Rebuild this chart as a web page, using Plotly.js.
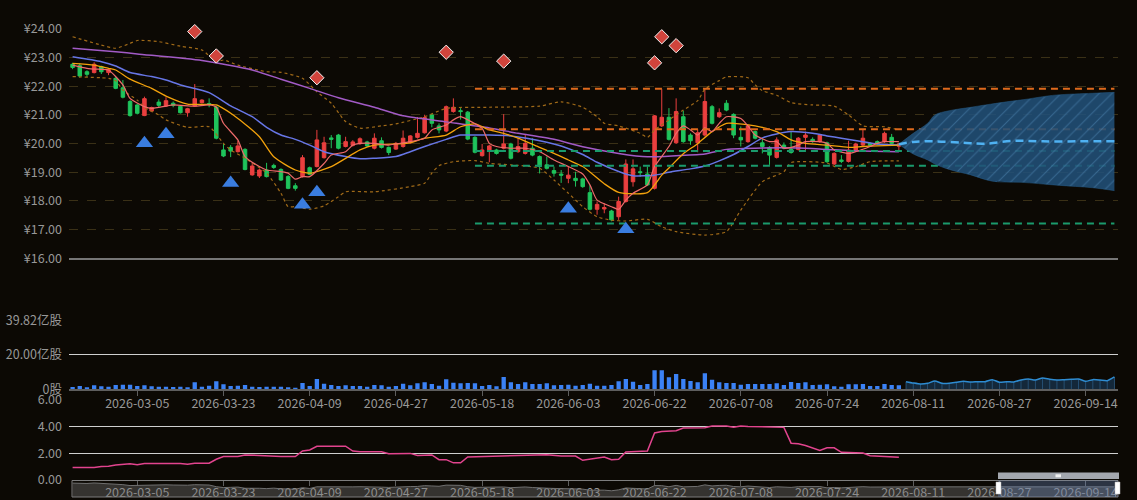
<!DOCTYPE html>
<html><head><meta charset="utf-8">
<script src="https://cdn.plot.ly/plotly-3.0.1.min.js"></script>
<style>html,body{margin:0;padding:0;background:#0c0904;}#chart{width:1137px;height:500px;}</style>
</head><body><div id="chart"></div>
<script>
// ---------- data ----------
const firstTradingDay = '2026-02-20';
const holidays = ['2026-04-06','2026-05-01','2026-05-04','2026-05-05','2026-06-19'];
const totalDays = 146;
const tickLabels = ['2026-03-05','2026-03-23','2026-04-09','2026-04-27','2026-05-18','2026-06-03','2026-06-22','2026-07-08','2026-07-24','2026-08-11','2026-08-27','2026-09-14'];

const opens = [22.77,22.72,22.51,22.48,22.69,22.48,22.28,21.95,21.47,21.35,
20.98,21.14,21.45,21.31,21.41,21.30,21.08,21.31,21.43,21.40,
21.27,19.78,19.87,19.72,19.80,18.91,18.87,19.08,19.24,19.10,
18.85,18.53,18.85,19.16,19.20,19.51,20.20,20.30,19.90,19.94,
20.00,20.06,19.84,20.10,19.87,19.81,19.90,20.03,20.22,20.38,
21.00,20.62,20.44,21.12,21.15,21.10,20.22,19.58,19.78,19.78,
19.84,19.99,19.72,19.66,19.84,19.55,19.26,19.06,18.94,18.79,
18.79,18.77,18.29,17.71,17.72,17.65,17.45,17.98,18.67,19.02,
18.94,18.44,20.62,20.92,20.03,20.94,20.30,20.03,20.30,21.29,
20.94,21.41,21.02,20.22,20.07,20.42,20.03,19.87,19.52,19.95,
19.80,19.80,20.22,20.15,20.07,20.03,19.29,19.43,19.38,19.78,
19.95,20.01,20.07,20.07,20.22,19.91];
const highs = [22.82,22.80,22.56,22.84,22.72,22.62,22.32,22.22,21.52,21.38,
21.64,21.29,21.55,21.62,21.47,21.33,21.25,22.08,21.55,21.58,
21.32,19.99,19.95,20.10,19.84,19.36,19.12,19.33,19.30,19.14,
18.90,18.62,19.60,19.20,20.48,20.24,20.30,20.34,20.24,20.12,
20.22,20.10,20.36,20.22,19.90,20.06,20.46,20.30,20.93,21.01,
21.04,20.71,21.33,21.58,21.24,21.14,20.26,19.99,19.96,19.82,
21.03,20.03,20.19,20.30,20.19,19.59,19.55,19.20,19.08,19.20,
19.02,18.81,18.55,17.98,17.92,17.69,18.15,19.45,19.45,19.20,
19.20,21.00,21.90,21.24,21.58,21.15,20.36,20.50,21.93,21.35,
21.23,21.52,21.06,20.60,20.66,20.46,20.19,19.91,20.22,20.04,
20.42,20.23,20.42,20.22,20.34,20.07,19.70,19.60,20.10,20.03,
20.48,20.05,20.11,20.42,20.34,20.03];
const lows = [22.60,22.30,22.33,22.45,22.43,22.39,21.90,21.58,20.94,21.02,
20.96,21.10,21.27,21.28,21.27,21.05,20.94,21.28,21.40,21.27,
20.15,19.53,19.53,19.69,19.07,18.88,18.80,18.82,19.12,18.70,
18.41,18.36,18.82,18.90,19.17,19.48,19.84,19.80,19.87,19.90,
19.96,19.88,19.80,19.83,19.60,19.78,19.86,20.00,20.18,20.35,
20.57,20.36,20.40,21.08,20.84,20.12,19.66,19.55,19.35,19.62,
19.80,19.45,19.68,19.62,19.56,18.96,19.10,18.85,18.63,18.62,
18.50,18.46,17.67,17.52,17.57,17.29,17.34,17.94,18.50,18.84,
18.52,18.40,20.58,20.11,19.99,20.03,19.96,19.70,20.25,20.67,
20.90,21.13,20.19,19.90,20.03,20.15,19.66,19.26,19.48,19.80,
19.65,19.76,19.78,20.03,20.03,19.33,19.25,19.32,19.34,19.74,
19.91,19.90,19.95,20.03,19.97,19.72];
const closes = [22.66,22.36,22.42,22.77,22.51,22.59,21.93,21.62,20.98,21.06,
21.57,21.26,21.34,21.50,21.34,21.08,21.22,21.57,21.52,21.36,
20.19,19.57,19.74,19.92,19.10,19.22,19.08,18.85,19.17,18.73,
18.44,18.44,19.51,18.93,20.13,20.03,20.15,19.84,20.07,20.06,
20.17,19.92,20.19,19.87,19.69,20.01,20.19,20.27,20.36,20.91,
20.71,20.48,21.29,21.27,21.12,20.16,19.70,19.78,19.92,19.66,
19.99,19.49,19.90,20.01,19.60,19.20,19.14,18.97,18.90,18.90,
18.71,18.50,17.71,17.88,17.77,17.34,17.98,19.29,19.12,18.99,
18.56,20.97,20.92,20.15,21.12,20.07,20.10,20.38,21.47,20.71,
21.08,21.17,20.30,20.13,20.62,20.19,19.90,19.60,20.13,19.84,
19.69,20.19,20.30,20.07,20.30,19.37,19.66,19.38,19.77,19.99,
20.19,19.94,19.99,20.36,20.01,19.99];

// volume, 亿股
const volumes = [1.35,1.94,1.16,2.32,1.74,1.55,2.52,2.71,2.71,1.94,
2.32,1.74,1.55,1.55,1.35,1.55,1.16,4.06,1.55,2.13,
4.64,2.90,1.94,2.13,2.52,1.55,1.35,1.55,1.55,1.55,
1.16,0.97,3.68,1.94,6.00,3.29,2.52,1.94,2.32,1.94,
1.94,1.55,2.52,2.32,1.55,1.94,3.29,2.32,3.48,4.06,
3.10,2.13,5.81,3.87,3.48,3.68,3.48,1.94,2.52,1.74,
7.16,4.06,3.10,4.06,3.10,3.10,3.48,2.32,2.52,2.71,
2.13,2.52,3.29,2.13,2.13,2.52,4.64,6.00,4.45,2.52,
3.10,11.03,11.03,6.97,8.90,6.00,4.84,4.06,9.29,5.61,
4.06,3.68,3.68,2.71,3.10,3.10,3.10,3.10,3.48,2.52,
4.26,3.68,4.06,2.52,2.71,2.90,1.74,1.55,2.90,2.90,
3.10,1.94,1.94,3.10,2.52,2.32];
const forecastVolStart = 116;
const forecastVolumes = [4.45,3.68,3.10,3.48,4.84,3.48,3.48,4.06,4.64,4.26,
4.45,4.45,5.61,4.06,4.45,4.26,5.42,6.00,5.42,6.58,
5.81,5.42,5.61,5.81,6.00,4.64,5.61,5.42,5.03,7.16];
const volTickVals = [0, 20, 39.82];
const volTickText = ['0股', '20.00亿股', '39.82亿股'];

// moving averages (sampled at category index)
const ma5Idx = [0,2,4,5,7,8,10,11,13,14,17,19,20,21,23,24,26,27,29,30,31,32,33,35,36,38,39,40,42,44,45,47,49,50,52,53,54,55,57,58,59,61,63,65,67,69,71,72,73,75,76,77,78,80,81,83,84,85,86,87,88,89,90,91,93,94,95,97,98,99,101,102,104,105,106,108,109,111,112,113,115];
const ma5Val = [22.74,22.63,22.59,22.57,22.05,21.58,21.29,21.23,21.31,21.35,21.31,21.35,21.27,20.71,20.13,19.55,19.2,19.08,19.02,18.97,18.76,18.85,18.85,19.31,19.6,19.72,19.95,20.01,20.01,19.95,19.99,20.07,20.19,20.48,20.65,20.83,20.94,20.83,20.53,20.01,19.9,19.84,19.84,19.72,19.43,19.2,18.94,18.56,18.03,17.8,17.71,18.03,18.27,18.56,19.2,19.9,20.36,20.62,20.48,20.3,20.55,20.42,20.71,20.94,20.88,20.62,20.3,20.07,20.07,19.84,19.95,20.07,20.07,20.01,19.78,19.66,19.72,19.9,20.01,20.07,20.07];
const ma10Idx = [0,3,5,6,8,11,13,16,20,23,26,28,31,33,36,40,42,45,47,49,52,54,56,58,60,62,65,67,69,71,74,76,80,82,83,85,87,89,91,92,95,98,100,102,105,108,110,112,115];
const ma10Val = [22.8,22.74,22.63,22.57,22.25,21.93,21.66,21.38,21.35,20.88,20.24,19.54,19.08,18.97,19.2,19.78,19.95,19.99,20.03,20.19,20.3,20.59,20.69,20.48,20.36,20.19,19.87,19.66,19.43,19.2,18.6,18.3,18.29,18.9,19.15,19.65,20.0,20.42,20.71,20.71,20.62,20.42,20.13,20.01,19.95,19.87,19.9,19.92,19.95];
const ma20Idx = [0,4,6,8,11,13,15,19,22,25,27,29,31,33,35,38,40,42,45,47,49,52,54,56,58,61,66,68,71,73,76,78,81,83,86,88,90,92,94,96,98,100,103,105,107,110,112,115];
const ma20Val = [23.03,22.86,22.71,22.48,22.34,22.22,22.05,21.78,21.32,20.94,20.57,20.3,20.15,19.95,19.72,19.55,19.47,19.49,19.55,19.72,19.9,20.15,20.3,20.3,20.3,20.27,20.05,19.92,19.62,19.35,19.03,18.88,18.9,19.0,19.12,19.22,19.4,19.62,19.9,20.2,20.34,20.42,20.36,20.27,20.19,20.07,19.99,19.95];
const ma60Idx = [0,6,9,18,25,29,33,37,42,46,52,58,62,67,71,76,80,84,88,91,96,101,105,110,115];
const ma60Val = [23.33,23.21,23.13,22.9,22.57,22.25,21.93,21.6,21.27,20.97,20.76,20.55,20.36,20.15,19.89,19.66,19.54,19.58,19.64,19.8,19.85,19.85,19.8,19.74,19.72];

// Bollinger bands
const bollUpIdx = [0,4,6,8,9,12,15,18,20,21,23,27,29,32,34,36,38,40,43,45,49,52,58,65,68,71,73,74,76,79,80,81,83,85,87,88,90,91,94,95,96,98,100,103,106,108,110,113,115];
const bollUpVal = [23.73,23.44,23.33,23.5,23.6,23.56,23.4,23.27,22.86,22.92,22.74,22.51,22.49,22.28,21.81,21.41,20.77,20.54,20.62,20.69,20.94,21.23,21.27,21.31,21.46,21.27,20.94,20.71,20.62,20.36,20.22,20.48,20.83,21.17,21.5,21.9,22.2,22.33,22.3,22.05,21.85,21.69,21.43,21.35,21.31,21.0,20.62,20.59,20.48];
const bollLoIdx = [0,4,5,6,7,9,10,12,13,16,19,21,22,24,27,29,30,31,33,35,37,38,42,47,49,50,51,53,56,58,61,65,67,69,71,73,75,77,80,82,84,88,91,93,96,99,100,105,107,109,111,113,115];
const bollLoVal = [22.34,22.3,22.28,22.2,21.87,21.52,21.27,21.0,20.83,20.57,20.59,20.01,19.78,19.49,18.97,18.27,17.8,17.8,17.71,17.83,18.15,18.32,18.32,18.5,18.62,18.97,19.23,19.37,19.41,19.31,19.26,19.14,18.73,18.27,17.8,17.45,17.33,17.3,17.36,17.1,16.93,16.81,16.93,17.68,18.67,19.02,19.34,19.32,19.1,19.2,19.37,19.4,19.4];

// signals
const sellIdx = [17,20,34,52,60,81,82,84];
const sellVal = [23.91,23.06,22.3,23.19,22.88,22.82,23.73,23.42];
const buyIdx = [10,13,22,32,34,69,77];
const buyVal = [20.01,20.33,18.63,17.87,18.3,17.73,17.01];

// support / resistance
const levelStartIdx = 56;
const resistanceLevels = [21.92, 20.50];
const supportLevels = [19.74, 19.23, 17.21];

// forecast
const coneUpIdx = [115,117,119,120,122,125,127,130,133,135,137,142,145];
const coneUpVal = [19.98,20.36,20.71,21.0,21.15,21.27,21.35,21.46,21.56,21.64,21.70,21.76,21.79];
const coneLoIdx = [115,117,119,120,122,125,128,132,137,142,145];
const coneLoVal = [19.98,19.64,19.43,19.29,19.1,18.91,18.69,18.65,18.55,18.46,18.36];
const midIdx = [115,117,120,124,127,131,135,140,145];
const midVal = [19.98,20.06,20.08,20.03,20.0,20.1,20.08,20.08,20.08];

// lower indicator
const indIdx = [0,3,4,5,6,8,9,10,15,16,17,19,20,21,23,24,26,29,31,32,33,34,38,39,40,43,44,47,48,50,51,52,53,54,55,61,66,68,70,71,73,74,75,76,77,80,81,82,84,85,88,89,91,92,93,94,99,100,101,102,104,105,106,107,110,111,115];
const indVal = [0.92,0.92,1.0,1.02,1.1,1.2,1.12,1.22,1.22,1.17,1.24,1.24,1.54,1.74,1.74,1.86,1.83,1.74,1.74,2.16,2.24,2.52,2.52,2.16,2.11,2.11,1.96,1.98,1.83,1.86,1.51,1.51,1.27,1.27,1.71,1.81,1.88,1.78,1.78,1.46,1.66,1.71,1.51,1.54,2.09,2.16,3.52,3.62,3.69,3.89,3.91,4.04,4.04,3.95,4.05,4.01,3.94,2.75,2.7,2.58,2.21,2.4,2.4,2.06,2.01,1.81,1.69];
const indTicks = [0, 2, 4, 6];

// ---------- categories (trading days) ----------
const dates = (function () {
  const out = [];
  const d = new Date(firstTradingDay + 'T00:00:00Z');
  while (out.length < totalDays) {
    const s = d.toISOString().slice(0, 10);
    const w = d.getUTCDay();
    if (w !== 0 && w !== 6 && holidays.indexOf(s) < 0) out.push(s);
    d.setUTCDate(d.getUTCDate() + 1);
  }
  return out;
})();
const D = arr => arr.map(i => dates[i]);
const candleDates = dates.slice(0, opens.length);

// ---------- style ----------
const BG = '#0c0904';
const FONT = '"Noto Sans CJK SC","Noto Sans",sans-serif';
const TXT = '#989898';
const FS = 12.5;
const W = 1137, H = 500;
const px = X => X / W, py = Y => 1 - Y / H;
const XDOM = [px(69), px(1118)];
const NONE = 'skip';

const traces = [];
function line(xi, yv, color, width, dash, extra) {
  return Object.assign({type: 'scatter', mode: 'lines', x: D(xi), y: yv, xaxis: 'x', yaxis: 'y',
    line: {color: color, width: width, dash: dash || 'solid', shape: 'spline', smoothing: 0.6}, hoverinfo: NONE}, extra || {});
}
// Bollinger
traces.push(line(bollUpIdx, bollUpVal, '#a06a18', 1.2, '3px,3px'));
traces.push(line(bollLoIdx, bollLoVal, '#a06a18', 1.2, '3px,3px'));
// MAs
traces.push(line(ma60Idx, ma60Val, '#a25bc6', 1.5));
traces.push(line(ma20Idx, ma20Val, '#6776e6', 1.5));
traces.push(line(ma10Idx, ma10Val, '#f3a20c', 1.3));
traces.push(line(ma5Idx, ma5Val, '#ee6b6b', 1.2));
// support / resistance
resistanceLevels.forEach(v => traces.push({type: 'scatter', mode: 'lines', x: [dates[levelStartIdx], dates[totalDays - 1]], y: [v, v],
  xaxis: 'x', yaxis: 'y', line: {color: '#df6a1c', width: 2, dash: '7px,5px'}, hoverinfo: NONE}));
supportLevels.forEach(v => traces.push({type: 'scatter', mode: 'lines', x: [dates[levelStartIdx], dates[totalDays - 1]], y: [v, v],
  xaxis: 'x', yaxis: 'y', line: {color: '#1a9a6c', width: 2, dash: '7px,5px'}, hoverinfo: NONE}));
// forecast cone
traces.push({type: 'scatter', mode: 'lines', x: D(coneUpIdx), y: coneUpVal, xaxis: 'x', yaxis: 'y',
  line: {color: 'rgba(40,95,140,0.9)', width: 0.5, shape: 'spline'}, hoverinfo: NONE});
traces.push({type: 'scatter', mode: 'lines', x: D(coneLoIdx), y: coneLoVal, xaxis: 'x', yaxis: 'y',
  line: {color: 'rgba(40,95,140,0.9)', width: 0.5, shape: 'spline'}, fill: 'tonexty',
  fillcolor: 'rgba(36,88,130,0.85)',
  fillpattern: {shape: '/', bgcolor: 'rgba(33,80,120,0.88)', fgcolor: 'rgba(78,135,180,0.5)', size: 9, solidity: 0.12},
  hoverinfo: NONE});
// candles
traces.push({type: 'candlestick', x: candleDates, open: opens, high: highs, low: lows, close: closes, xaxis: 'x', yaxis: 'y',
  increasing: {line: {color: '#ea3f3f', width: 1}, fillcolor: '#ea3f3f'},
  decreasing: {line: {color: '#1fc45c', width: 1}, fillcolor: '#1fc45c'},
  whiskerwidth: 0, hoverinfo: NONE});
// forecast mid
traces.push({type: 'scatter', mode: 'lines', x: D(midIdx), y: midVal, xaxis: 'x', yaxis: 'y',
  line: {color: '#4fb1f2', width: 2.5, dash: '8px,5px', shape: 'spline'}, hoverinfo: NONE});
// signals
traces.push({type: 'scatter', mode: 'markers', x: D(sellIdx), y: sellVal, xaxis: 'x', yaxis: 'y', cliponaxis: false,
  marker: {symbol: 'diamond', size: 11, color: '#d0443c', line: {color: '#f2f2f2', width: 1}}, hoverinfo: NONE});
traces.push({type: 'scatter', mode: 'markers', x: D(buyIdx), y: buyVal, xaxis: 'x', yaxis: 'y', cliponaxis: false,
  marker: {symbol: 'triangle-up', size: 15, color: '#3a7de0', line: {width: 0}}, hoverinfo: NONE});

// volume
traces.push({type: 'bar', x: candleDates, y: volumes, xaxis: 'x2', yaxis: 'y2', width: 0.6,
  marker: {color: '#3b82f6', line: {width: 0}}, hoverinfo: NONE});
const fvDates = dates.slice(forecastVolStart, forecastVolStart + forecastVolumes.length);
traces.push({type: 'scatter', mode: 'lines', x: fvDates, y: forecastVolumes, xaxis: 'x2', yaxis: 'y2',
  line: {color: '#2e8cd2', width: 1.5, shape: 'spline', smoothing: 0.6}, fill: 'tozeroy', fillcolor: 'rgba(30,80,125,0.45)', hoverinfo: NONE});
traces.push({type: 'bar', x: fvDates, y: forecastVolumes, xaxis: 'x2', yaxis: 'y2', width: 0.12,
  marker: {color: 'rgba(70,140,200,0.6)', line: {width: 0}}, hoverinfo: NONE});

// indicator
traces.push({type: 'scatter', mode: 'lines', x: D(indIdx), y: indVal, xaxis: 'x3', yaxis: 'y3',
  line: {color: '#e2448e', width: 1.5}, hoverinfo: NONE});

// slider shadow
const shadowY = closes.concat(midVal.slice(1));
const shadowX = candleDates.concat(D(midIdx.slice(1)));
traces.push({type: 'scatter', mode: 'lines', x: shadowX, y: shadowY, xaxis: 'x4', yaxis: 'y4',
  line: {color: '#707070', width: 1}, fill: 'tozeroy', fillcolor: 'rgba(120,120,120,0.38)', hoverinfo: NONE});

// ---------- layout ----------
const baseX = {type: 'category', categoryorder: 'array', categoryarray: dates, range: [-0.5, totalDays - 0.5],
  domain: XDOM, showgrid: false, zeroline: false, fixedrange: true, automargin: false};
const tickX = {tickmode: 'array', tickvals: tickLabels, ticktext: tickLabels, ticks: 'outside', ticklen: 5,
  tickcolor: '#5e5e5e', tickfont: {family: FONT, size: FS, color: TXT}, showticklabels: true, ticklabelstandoff: -3};
const baseY = {zeroline: false, fixedrange: true, automargin: false, ticks: '', tickfont: {family: FONT, size: FS, color: TXT}, ticklabelstandoff: 6};

const layout = {
  width: W, height: H, margin: {l: 0, r: 0, t: 0, b: 0, pad: 0},
  paper_bgcolor: BG, plot_bgcolor: BG, showlegend: false, barmode: 'overlay',
  font: {family: FONT, size: FS, color: TXT},
  xaxis: Object.assign({}, baseX, {anchor: 'y', showticklabels: false, showline: true, linecolor: '#767676', linewidth: 1.5, ticks: '', rangeslider: {visible: false}}),
  xaxis2: Object.assign({}, baseX, tickX, {anchor: 'y2', showline: true, linecolor: '#5e5e5e', linewidth: 1.5}),
  xaxis3: Object.assign({}, baseX, tickX, {anchor: 'y3', showline: false, ticklabelstandoff: -4}),
  xaxis4: Object.assign({}, baseX, {anchor: 'y4', visible: false}),
  yaxis: Object.assign({}, baseY, {domain: [py(258.3), py(29)], range: [15.999, 24.001], dtick: 1, tick0: 16,
    tickprefix: '¥', tickformat: '.2f', showgrid: true, gridcolor: '#3a3016', griddash: 'dash', gridwidth: 1}),
  yaxis2: Object.assign({}, baseY, {domain: [py(389.3), py(320.7)], range: [0, 39.83], tickmode: 'array',
    tickvals: volTickVals, ticktext: volTickText, showgrid: true, gridcolor: '#cfcfcf', gridwidth: 1}),
  yaxis3: Object.assign({}, baseY, {domain: [py(479.7), py(400)], range: [-0.001, 6.001], tickmode: 'array',
    tickvals: indTicks, ticktext: indTicks.map(v => v.toFixed(2)), showgrid: true, gridcolor: '#cfcfcf', gridwidth: 1}),
  yaxis4: {domain: [py(497), py(480.5)], range: [13, 24.5], visible: false, fixedrange: true},
  shapes: [
    {type: 'rect', xref: 'paper', yref: 'paper', x0: px(72), x1: px(1118), y0: py(497), y1: py(480.5),
      line: {color: '#7d7d7d', width: 1}, fillcolor: 'rgba(0,0,0,0)', layer: 'above'},
    {type: 'rect', xref: 'paper', yref: 'paper', x0: px(998), x1: px(1118), y0: py(497), y1: py(480.5),
      line: {width: 0}, fillcolor: 'rgba(105,135,185,0.35)', layer: 'above'},
    {type: 'rect', xref: 'paper', yref: 'paper', x0: px(998), x1: px(1119), y0: py(479), y1: py(472.5),
      line: {width: 0}, fillcolor: '#a3a7ae', layer: 'above'},
    {type: 'rect', xref: 'paper', yref: 'paper', x0: px(1055.5), x1: px(1061), y0: py(477.3), y1: py(474.3),
      line: {width: 0}, fillcolor: '#f0f0f0', layer: 'above'},
    {type: 'rect', xref: 'paper', yref: 'paper', x0: px(996), x1: px(1001), y0: py(494), y1: py(482),
      line: {color: '#bbbbbb', width: 0.5}, fillcolor: '#ffffff', layer: 'above'},
    {type: 'rect', xref: 'paper', yref: 'paper', x0: px(1115), x1: px(1120), y0: py(494), y1: py(482),
      line: {color: '#bbbbbb', width: 0.5}, fillcolor: '#ffffff', layer: 'above'}
  ]
};

Plotly.newPlot('chart', traces, layout, {staticPlot: true, displayModeBar: false});
</script></body></html>
